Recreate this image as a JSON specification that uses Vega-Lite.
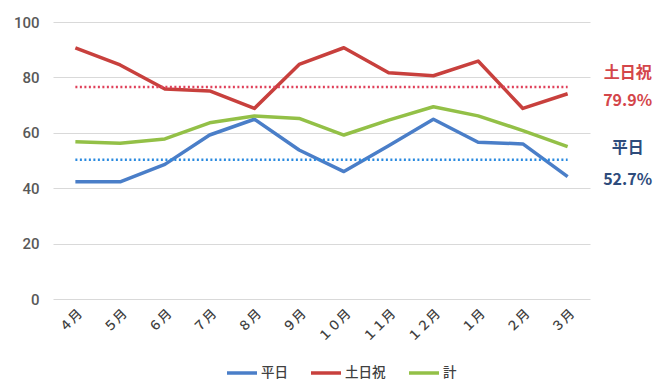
{
  "$schema": "https://vega.github.io/schema/vega-lite/v6.json",
  "width": 537,
  "height": 277,
  "autosize": {"type": "none"},
  "padding": {"left": 53, "top": 22, "right": 68, "bottom": 81},
  "background": "white",
  "config": {
    "font": "Noto Sans CJK JP",
    "view": {"stroke": null},
    "axis": {"labelFont": "Noto Sans CJK JP", "labelColor": "#595959"}
  },
  "datasets": {
    "main": [
      {"month": "４月", "series": "平日", "value": 42.3},
      {"month": "５月", "series": "平日", "value": 42.3},
      {"month": "６月", "series": "平日", "value": 48.6},
      {"month": "７月", "series": "平日", "value": 59.2},
      {"month": "８月", "series": "平日", "value": 64.9},
      {"month": "９月", "series": "平日", "value": 53.8},
      {"month": "１０月", "series": "平日", "value": 46.0},
      {"month": "１１月", "series": "平日", "value": 55.3},
      {"month": "１２月", "series": "平日", "value": 64.9},
      {"month": "１月", "series": "平日", "value": 56.6},
      {"month": "２月", "series": "平日", "value": 56.0},
      {"month": "３月", "series": "平日", "value": 44.2},
      {"month": "４月", "series": "土日祝", "value": 90.7},
      {"month": "５月", "series": "土日祝", "value": 84.5},
      {"month": "６月", "series": "土日祝", "value": 75.8},
      {"month": "７月", "series": "土日祝", "value": 75.1},
      {"month": "８月", "series": "土日祝", "value": 68.8},
      {"month": "９月", "series": "土日祝", "value": 84.7},
      {"month": "１０月", "series": "土日祝", "value": 90.7},
      {"month": "１１月", "series": "土日祝", "value": 81.7},
      {"month": "１２月", "series": "土日祝", "value": 80.6},
      {"month": "１月", "series": "土日祝", "value": 85.9},
      {"month": "２月", "series": "土日祝", "value": 68.8},
      {"month": "３月", "series": "土日祝", "value": 74.1},
      {"month": "４月", "series": "計", "value": 56.8},
      {"month": "５月", "series": "計", "value": 56.2},
      {"month": "６月", "series": "計", "value": 57.8},
      {"month": "７月", "series": "計", "value": 63.6},
      {"month": "８月", "series": "計", "value": 66.1},
      {"month": "９月", "series": "計", "value": 65.2},
      {"month": "１０月", "series": "計", "value": 59.2},
      {"month": "１１月", "series": "計", "value": 64.6},
      {"month": "１２月", "series": "計", "value": 69.4},
      {"month": "１月", "series": "計", "value": 66.1},
      {"month": "２月", "series": "計", "value": 60.8},
      {"month": "３月", "series": "計", "value": 55.0}
    ],
    "refs": [
      {"series": "土日祝", "value": 76.5, "start": "４月", "end": "３月"},
      {"series": "平日", "value": 50.3, "start": "４月", "end": "３月"}
    ],
    "notes": [
      {"group": "土日祝", "text": "土日祝", "month": "３月", "y": 81.6},
      {"group": "土日祝", "text": "79.9%", "month": "３月", "y": 71.5},
      {"group": "平日", "text": "平日", "month": "３月", "y": 54.5},
      {"group": "平日", "text": "52.7%", "month": "３月", "y": 43.0}
    ]
  },
  "layer": [
    {
      "data": {"name": "main"},
      "mark": {"type": "line", "strokeWidth": 3.5, "strokeJoin": "round"},
      "encoding": {
        "x": {
          "field": "month", "type": "ordinal",
          "scale": {"type": "point", "padding": 0.5, "domain": ["４月","５月","６月","７月","８月","９月","１０月","１１月","１２月","１月","２月","３月"]},
          "axis": {"title": null, "labelAngle": -45, "labelFontSize": 13, "labelFontWeight": 500, "labelColor": "#404040", "labelPadding": 8, "ticks": false, "domain": false, "grid": false}
        },
        "y": {
          "field": "value", "type": "quantitative",
          "scale": {"domain": [0, 100]},
          "axis": {"title": null, "values": [0, 20, 40, 60, 80, 100], "labelFontSize": 15, "labelFontWeight": 500, "labelPadding": 14, "ticks": false, "domain": false, "gridColor": "#d9d9d9", "gridWidth": 1.2, "labelFont": "Roboto"}
        },
        "color": {
          "field": "series", "type": "nominal",
          "scale": {"domain": ["平日", "土日祝", "計"], "range": ["#4A7EC8", "#C8403D", "#93C047"]},
          "legend": {"title": null, "orient": "none", "legendX": 172, "legendY": 334, "direction": "horizontal", "symbolType": "stroke", "symbolSize": 900, "symbolStrokeWidth": 3.5, "labelFontSize": 13.5, "labelFontWeight": 500, "labelColor": "#404040", "labelOffset": 2, "columnPadding": 16}
        }
      }
    },
    {
      "data": {"name": "refs"},
      "transform": [{"filter": "datum.series === '土日祝'"}],
      "mark": {"type": "rule", "color": "#E0405A", "strokeWidth": 2.5, "strokeDash": [2, 2.5]},
      "encoding": {
        "x": {"field": "start", "type": "ordinal"},
        "x2": {"field": "end"},
        "y": {"field": "value", "type": "quantitative"}
      }
    },
    {
      "data": {"name": "refs"},
      "transform": [{"filter": "datum.series === '平日'"}],
      "mark": {"type": "rule", "color": "#2A8AE0", "strokeWidth": 2.5, "strokeDash": [2, 2.5]},
      "encoding": {
        "x": {"field": "start", "type": "ordinal"},
        "x2": {"field": "end"},
        "y": {"field": "value", "type": "quantitative"}
      }
    },
    {
      "data": {"name": "notes"},
      "transform": [{"filter": "datum.group === '土日祝'"}],
      "mark": {"type": "text", "color": "#D4464A", "fontSize": 16, "fontWeight": "bold", "dx": 60, "align": "center", "baseline": "middle"},
      "encoding": {
        "x": {"field": "month", "type": "ordinal"},
        "y": {"field": "y", "type": "quantitative"},
        "text": {"field": "text"}
      }
    },
    {
      "data": {"name": "notes"},
      "transform": [{"filter": "datum.group === '平日'"}],
      "mark": {"type": "text", "color": "#2E4C7C", "fontSize": 16, "fontWeight": "bold", "dx": 60, "align": "center", "baseline": "middle"},
      "encoding": {
        "x": {"field": "month", "type": "ordinal"},
        "y": {"field": "y", "type": "quantitative"},
        "text": {"field": "text"}
      }
    }
  ]
}
